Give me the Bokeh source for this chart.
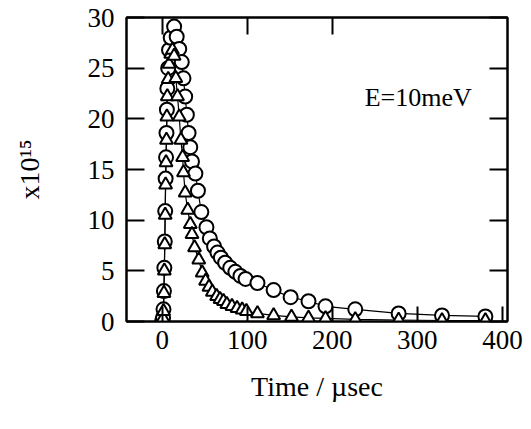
from bokeh.plotting import figure
from bokeh.models import LinearAxis, FixedTicker, Range1d, Label
from bokeh.embed import file_html
from bokeh.resources import INLINE

# ---- data ----
circle_t = [0, 1, 1.5, 2, 2.5, 3, 3.5, 4, 4.5, 5, 5.5, 6, 7, 8, 10,
            14, 17, 20, 23, 25, 27, 29, 31, 33, 35, 39, 42, 46, 52, 56, 61, 65,
            69, 74, 80, 86, 92, 98, 112, 131, 151, 172, 192, 227, 278, 329, 380]
circle_v = [0.1, 0.4, 1.2, 3.0, 5.3, 7.9, 10.9, 14.1, 16.2, 18.6, 20.9, 23.0, 25.0, 26.8, 28.0,
            29.1, 28.1, 26.9, 25.6, 24.0, 22.2, 20.4, 18.6, 17.2, 15.8, 14.6, 12.9, 10.8, 9.3, 8.2, 7.4, 6.8,
            6.3, 5.8, 5.3, 4.9, 4.5, 4.2, 3.8, 3.1, 2.4, 2.0, 1.5, 1.2, 0.8, 0.6, 0.5]

tri_t = [0, 1, 1.5, 2, 2.5, 3, 3.5, 4, 4.5, 5, 5.5, 6, 7, 8, 10, 12,
         14, 16, 18, 20, 22, 24, 25, 27, 30, 33, 35, 38, 43, 47, 51, 55, 59, 64,
         68, 72, 76, 82, 88, 94, 99, 112, 131, 152, 172, 192, 227, 278, 329, 380]
tri_v = [0.0, 0.3, 1.0, 2.8, 5.0, 7.6, 10.5, 13.5, 15.7, 17.9, 20.2, 22.2, 23.9, 25.4, 26.4, 26.8,
         26.2, 24.0, 22.2, 20.2, 17.9, 16.2, 14.7, 12.7, 11.0, 9.6, 8.6, 7.3, 6.1, 4.8, 4.0, 3.4, 2.9, 2.5,
         2.2, 2.0, 1.7, 1.5, 1.3, 1.15, 1.0, 0.8, 0.6, 0.45, 0.35, 0.3, 0.2, 0.15, 0.1, 0.1]

x_ticks = [0, 100, 200, 300, 400]
y_ticks = [0, 5, 10, 15, 20, 25, 30]

FONT = "Liberation Serif"

p = figure(width=531, height=429, output_backend="svg", toolbar_location=None,
           x_range=Range1d(-42, 406), y_range=Range1d(0, 30),
           x_axis_location=None, y_axis_location=None,
           min_border_left=126, min_border_right=24, min_border_top=17, min_border_bottom=108)
p.xgrid.visible = False
p.ygrid.visible = False
p.outline_line_color = "black"
p.outline_line_width = 2
p.background_fill_color = "white"
p.border_fill_color = "white"


def style_axis(ax, ticks, tick_len, show_labels):
    ax.ticker = FixedTicker(ticks=ticks)
    ax.major_tick_in = tick_len
    ax.major_tick_out = 0
    ax.minor_tick_in = 0
    ax.minor_tick_out = 0
    ax.major_tick_line_width = 2
    ax.major_tick_line_color = "black"
    ax.axis_line_width = 2
    ax.axis_line_color = "black"
    ax.major_label_text_font = FONT
    ax.major_label_text_font_size = "27px"
    ax.major_label_text_color = "black" if show_labels else None
    ax.axis_label_text_color = "black"
    ax.axis_label_text_font = FONT
    ax.axis_label_text_font_style = "normal"


bottom = LinearAxis()
style_axis(bottom, x_ticks, 15, True)
bottom.major_label_standoff = 9
bottom.axis_label = "Time / µsec"
bottom.axis_label_text_font_size = "28px"
bottom.axis_label_standoff = 19
p.add_layout(bottom, "below")

left = LinearAxis()
style_axis(left, y_ticks, 18, True)
left.major_label_standoff = 12
left.axis_label = "x10¹⁵"
left.axis_label_text_font_size = "28px"
left.axis_label_standoff = 40
p.add_layout(left, "left")

top = LinearAxis()
style_axis(top, [0, 100, 200], 17, False)
p.add_layout(top, "above")

right = LinearAxis()
style_axis(right, y_ticks, 18, False)
p.add_layout(right, "right")

# series
p.line(circle_t, circle_v, line_color="black", line_width=1.2)
p.line(tri_t, tri_v, line_color="black", line_width=1.2)
p.scatter(circle_t, circle_v, marker="circle", size=14, fill_color="white",
          line_color="black", line_width=2)
p.scatter(tri_t, tri_v, marker="triangle", size=13, fill_color="white",
          line_color="black", line_width=2)

# annotation
p.add_layout(Label(x=301, y=22.1, text="E=10meV", text_font=FONT, text_font_size="26px",
                   text_align="center", text_baseline="alphabetic", text_color="black"))

open("out.html", "w").write(file_html(p, INLINE))
